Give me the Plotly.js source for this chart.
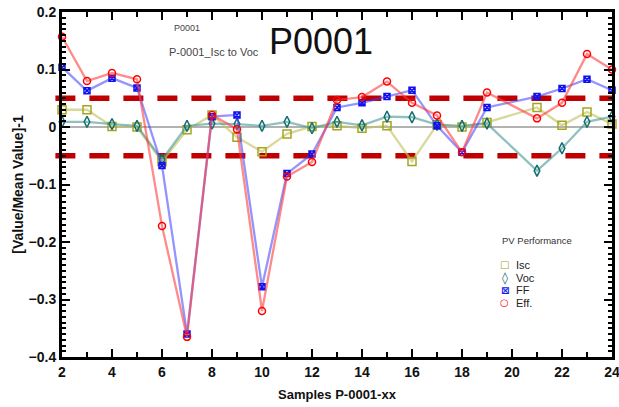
<!DOCTYPE html>
<html>
<head>
<meta charset="utf-8">
<script src="https://cdn.plot.ly/plotly-3.0.1.min.js"></script>
<style>html,body{margin:0;padding:0;background:#fff;}#chart{width:619px;height:407px;}</style>
</head>
<body>
<div id="chart"></div>
<script>
const samples = [2,3,4,5,6,7,8,9,10,11,12,13,14,15,16,17,18,19,21,22,23,24];
const isc  = [0.030,0.030,0.001,0.000,-0.060,-0.005,0.021,-0.018,-0.043,-0.012,0.001,0.002,-0.002,0.002,-0.060,0.004,0.000,0.008,0.034,0.003,0.026,0.005];
const voc  = [0.009,0.009,0.005,0.002,-0.057,0.002,0.006,0.005,0.002,0.009,-0.002,0.009,0.003,0.018,0.017,0.004,0.002,0.006,-0.076,-0.037,0.009,0.018];
const ff   = [0.104,0.063,0.085,0.068,-0.067,-0.360,0.018,0.021,-0.278,-0.081,-0.047,0.034,0.042,0.053,0.064,0.002,-0.044,0.034,0.053,0.067,0.083,0.064];
const eff  = [0.157,0.080,0.094,0.083,-0.172,-0.365,0.021,-0.004,-0.320,-0.086,-0.061,0.047,0.052,0.079,0.042,0.020,-0.044,0.060,0.015,0.042,0.127,0.100];
const seriesNames = ['Isc','Voc','FF','Eff.'];
const legendSymbols = ['\u25A1','\u25CA','\u22A0','\u25CB'];
const xTicks = [2,4,6,8,10,12,14,16,18,20,22,24];
const limits = [0.05,-0.05];

const F = 'Liberation Sans, Arial, sans-serif';
const markColors = ['#a5a520','#106e6e','#1010f0','#ff0000'];
function tr(i, y, lineColor, symbol, size){
  return {x: samples, y: y, name: seriesNames[i], type:'scatter', mode:'lines+markers', cliponaxis:false, showlegend:false,
    line:{color:lineColor, width:2.3},
    marker:{symbol:symbol, size:size, color:markColors[i], line:{color:markColors[i], width:1.5}}};
}
const data = [
  tr(0, isc, 'rgba(195,195,100,0.65)', 'square-open', 8),
  tr(1, voc, 'rgba(70,150,150,0.6)', 'diamond-tall-open', 8),
  tr(2, ff, 'rgba(60,60,255,0.55)', 'square-x-open', 6),
  tr(3, eff, 'rgba(255,60,60,0.6)', 'circle-open', 7)
];
const shapes = limits.map(v => ({type:'line', xref:'paper', yref:'y', x0:-0.012, x1:1.0, y0:v, y1:v,
  line:{color:'#c00000', width:5.5, dash:'20px,14px'}, layer:'below'}));
shapes.push({type:'line', xref:'paper', yref:'y', x0:0, x1:1, y0:0, y1:0, line:{color:'#999', width:1.5}, layer:'below'});

const annotations = [
  {xref:'paper', yref:'paper', x:0.2, y:0.955, xanchor:'left', yanchor:'middle', text:'P0001', showarrow:false,
    font:{family:F, size:9, color:'#444'}},
  {xref:'paper', yref:'paper', x:0.19, y:0.885, xanchor:'left', yanchor:'middle', text:'P-0001_Isc to Voc', showarrow:false,
    font:{family:F, size:11, color:'#444'}},
  {xref:'paper', yref:'paper', x:0.47, y:0.915, xanchor:'center', yanchor:'middle', text:'P0001', showarrow:false,
    font:{family:F, size:36, color:'#111'}},
  {xref:'paper', yref:'paper', x:0.797, y:0.338, xanchor:'left', yanchor:'middle', text:'PV Performance', showarrow:false,
    font:{family:F, size:9.5, color:'#333'}}
];
const legY = [0.267, 0.229, 0.194, 0.157];
seriesNames.forEach((n, i) => {
  annotations.push({xref:'paper', yref:'paper', x:0.805, y:legY[i], xanchor:'center', yanchor:'middle', showarrow:false,
    text:legendSymbols[i], font:{family:'DejaVu Sans', size: i===1 ? 12 : 10, color:markColors[i], weight:'bold'}});
  annotations.push({xref:'paper', yref:'paper', x:0.822, y:legY[i], xanchor:'left', yanchor:'middle', showarrow:false,
    text:n, font:{family:F, size:11, color:'#222'}});
});

const layout = {
  width:619, height:407,
  margin:{l:62, r:7, t:12, b:50},
  paper_bgcolor:'#fff', plot_bgcolor:'#fff',
  showlegend:false,
  xaxis:{range:[2,24], tickmode:'array', tickvals:xTicks, ticktext:xTicks.map(String), ticklabeloverflow:'allow',
    ticks:'inside', ticklen:8, tickwidth:2, tickcolor:'#000',
    showline:true, linecolor:'#000', linewidth:3, mirror:'ticks', showgrid:false, zeroline:false,
    tickfont:{family:F, size:14, color:'#111', weight:'bold'},
    minor:{dtick:1, tick0:2, ticks:'inside', ticklen:5, tickwidth:2, tickcolor:'#000', showgrid:false},
    title:{text:'Samples P-0001-xx', font:{family:F, size:13, color:'#111', weight:'bold'}, standoff:12}},
  yaxis:{range:[-0.4,0.2], dtick:0.1, ticks:'inside', ticklen:8, tickwidth:2, tickcolor:'#000',
    showline:true, linecolor:'#000', linewidth:3, mirror:'ticks', showgrid:false, zeroline:false,
    tickfont:{family:F, size:14, color:'#111', weight:'bold'},
    minor:{dtick:0.01, ticks:'inside', ticklen:4, tickwidth:2, tickcolor:'#000', showgrid:false},
    title:{text:'[Value/Mean Value]-1', font:{family:F, size:14, color:'#111', weight:'bold'}, standoff:2}},
  shapes: shapes,
  annotations: annotations
};
Plotly.newPlot('chart', data, layout, {displayModeBar:false, staticPlot:true});
</script>
</body>
</html>
